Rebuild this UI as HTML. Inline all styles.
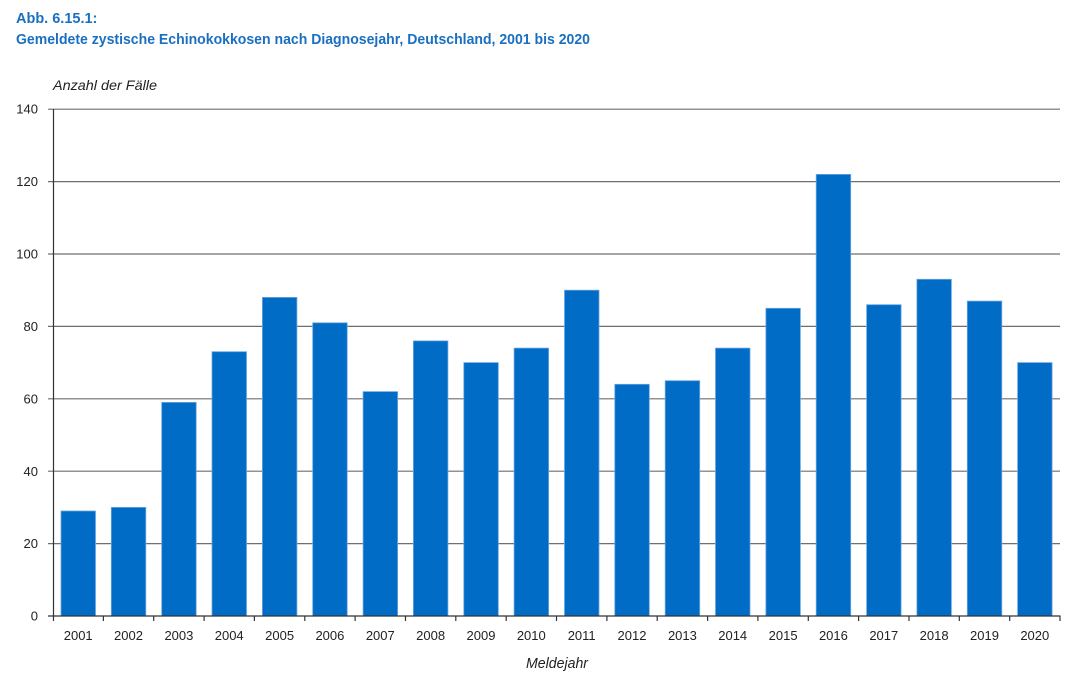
<!DOCTYPE html>
<html><head><meta charset="utf-8"><style>
html,body{margin:0;padding:0;background:#fff;}
svg{display:block;}
text{font-family:"Liberation Sans",Arial,sans-serif;}
</style></head><body>
<svg width="1080" height="684" viewBox="0 0 1080 684" xmlns="http://www.w3.org/2000/svg">
<rect width="1080" height="684" fill="#fff"/>
<text x="16" y="23" font-size="14.5" font-weight="bold" fill="#1a6fc1">Abb. 6.15.1:</text>
<text x="16" y="44" font-size="14.5" font-weight="bold" fill="#1a6fc1" textLength="574" lengthAdjust="spacingAndGlyphs">Gemeldete zystische Echinokokkosen nach Diagnosejahr, Deutschland, 2001 bis 2020</text>
<text x="53" y="90" font-size="14" font-style="italic" fill="#222" textLength="104" lengthAdjust="spacingAndGlyphs">Anzahl der Fälle</text>
<g stroke="#6f6f6f" stroke-width="1.2">
<line x1="48" y1="109.2" x2="1060" y2="109.2"/>
<line x1="48" y1="181.6" x2="1060" y2="181.6"/>
<line x1="48" y1="254" x2="1060" y2="254"/>
<line x1="48" y1="326.4" x2="1060" y2="326.4"/>
<line x1="48" y1="398.8" x2="1060" y2="398.8"/>
<line x1="48" y1="471.2" x2="1060" y2="471.2"/>
<line x1="48" y1="543.6" x2="1060" y2="543.6"/>
</g>
<g font-size="13" fill="#222" text-anchor="end">
<text x="38" y="113.5">140</text>
<text x="38" y="186">120</text>
<text x="38" y="258.5">100</text>
<text x="38" y="331">80</text>
<text x="38" y="403.5">60</text>
<text x="38" y="476">40</text>
<text x="38" y="548">20</text>
<text x="38" y="620.5">0</text>
</g>
<g fill="#006cc6" stroke="#6aa6e0" stroke-width="0.8">
<rect x="61.0" y="511.0" width="34.5" height="105"/>
<rect x="111.3" y="507.4" width="34.5" height="108.6"/>
<rect x="161.7" y="402.4" width="34.5" height="213.6"/>
<rect x="212.0" y="351.7" width="34.5" height="264.3"/>
<rect x="262.4" y="297.4" width="34.5" height="318.6"/>
<rect x="312.7" y="322.8" width="34.5" height="293.2"/>
<rect x="363.1" y="391.6" width="34.5" height="224.4"/>
<rect x="413.4" y="340.9" width="34.5" height="275.1"/>
<rect x="463.8" y="362.6" width="34.5" height="253.4"/>
<rect x="514.1" y="348.1" width="34.5" height="267.9"/>
<rect x="564.5" y="290.2" width="34.5" height="325.8"/>
<rect x="614.8" y="384.3" width="34.5" height="231.7"/>
<rect x="665.2" y="380.7" width="34.5" height="235.3"/>
<rect x="715.5" y="348.1" width="34.5" height="267.9"/>
<rect x="765.9" y="308.3" width="34.5" height="307.7"/>
<rect x="816.2" y="174.4" width="34.5" height="441.6"/>
<rect x="866.6" y="304.7" width="34.5" height="311.3"/>
<rect x="916.9" y="279.3" width="34.5" height="336.7"/>
<rect x="967.3" y="301.1" width="34.5" height="314.9"/>
<rect x="1017.6" y="362.6" width="34.5" height="253.4"/>
</g>
<g stroke="#333" stroke-width="1.2">
<line x1="53.5" y1="109" x2="53.5" y2="621"/>
<line x1="48" y1="616" x2="1060.5" y2="616"/>
<line x1="103.4" y1="616" x2="103.4" y2="621"/>
<line x1="153.7" y1="616" x2="153.7" y2="621"/>
<line x1="204.1" y1="616" x2="204.1" y2="621"/>
<line x1="254.4" y1="616" x2="254.4" y2="621"/>
<line x1="304.8" y1="616" x2="304.8" y2="621"/>
<line x1="355.1" y1="616" x2="355.1" y2="621"/>
<line x1="405.5" y1="616" x2="405.5" y2="621"/>
<line x1="455.8" y1="616" x2="455.8" y2="621"/>
<line x1="506.2" y1="616" x2="506.2" y2="621"/>
<line x1="556.5" y1="616" x2="556.5" y2="621"/>
<line x1="606.9" y1="616" x2="606.9" y2="621"/>
<line x1="657.2" y1="616" x2="657.2" y2="621"/>
<line x1="707.6" y1="616" x2="707.6" y2="621"/>
<line x1="757.9" y1="616" x2="757.9" y2="621"/>
<line x1="808.3" y1="616" x2="808.3" y2="621"/>
<line x1="858.6" y1="616" x2="858.6" y2="621"/>
<line x1="909.0" y1="616" x2="909.0" y2="621"/>
<line x1="959.3" y1="616" x2="959.3" y2="621"/>
<line x1="1009.7" y1="616" x2="1009.7" y2="621"/>
<line x1="1060" y1="616" x2="1060" y2="621"/>
</g>
<g font-size="13" fill="#222" text-anchor="middle">
<text x="78.2" y="640">2001</text>
<text x="128.5" y="640">2002</text>
<text x="178.9" y="640">2003</text>
<text x="229.2" y="640">2004</text>
<text x="279.6" y="640">2005</text>
<text x="329.9" y="640">2006</text>
<text x="380.3" y="640">2007</text>
<text x="430.6" y="640">2008</text>
<text x="481.0" y="640">2009</text>
<text x="531.3" y="640">2010</text>
<text x="581.7" y="640">2011</text>
<text x="632.0" y="640">2012</text>
<text x="682.4" y="640">2013</text>
<text x="732.7" y="640">2014</text>
<text x="783.1" y="640">2015</text>
<text x="833.4" y="640">2016</text>
<text x="883.8" y="640">2017</text>
<text x="934.1" y="640">2018</text>
<text x="984.5" y="640">2019</text>
<text x="1034.8" y="640">2020</text>
</g>
<text x="557" y="668" font-size="14.5" font-style="italic" fill="#222" text-anchor="middle" textLength="62" lengthAdjust="spacingAndGlyphs">Meldejahr</text>
</svg>
</body></html>
